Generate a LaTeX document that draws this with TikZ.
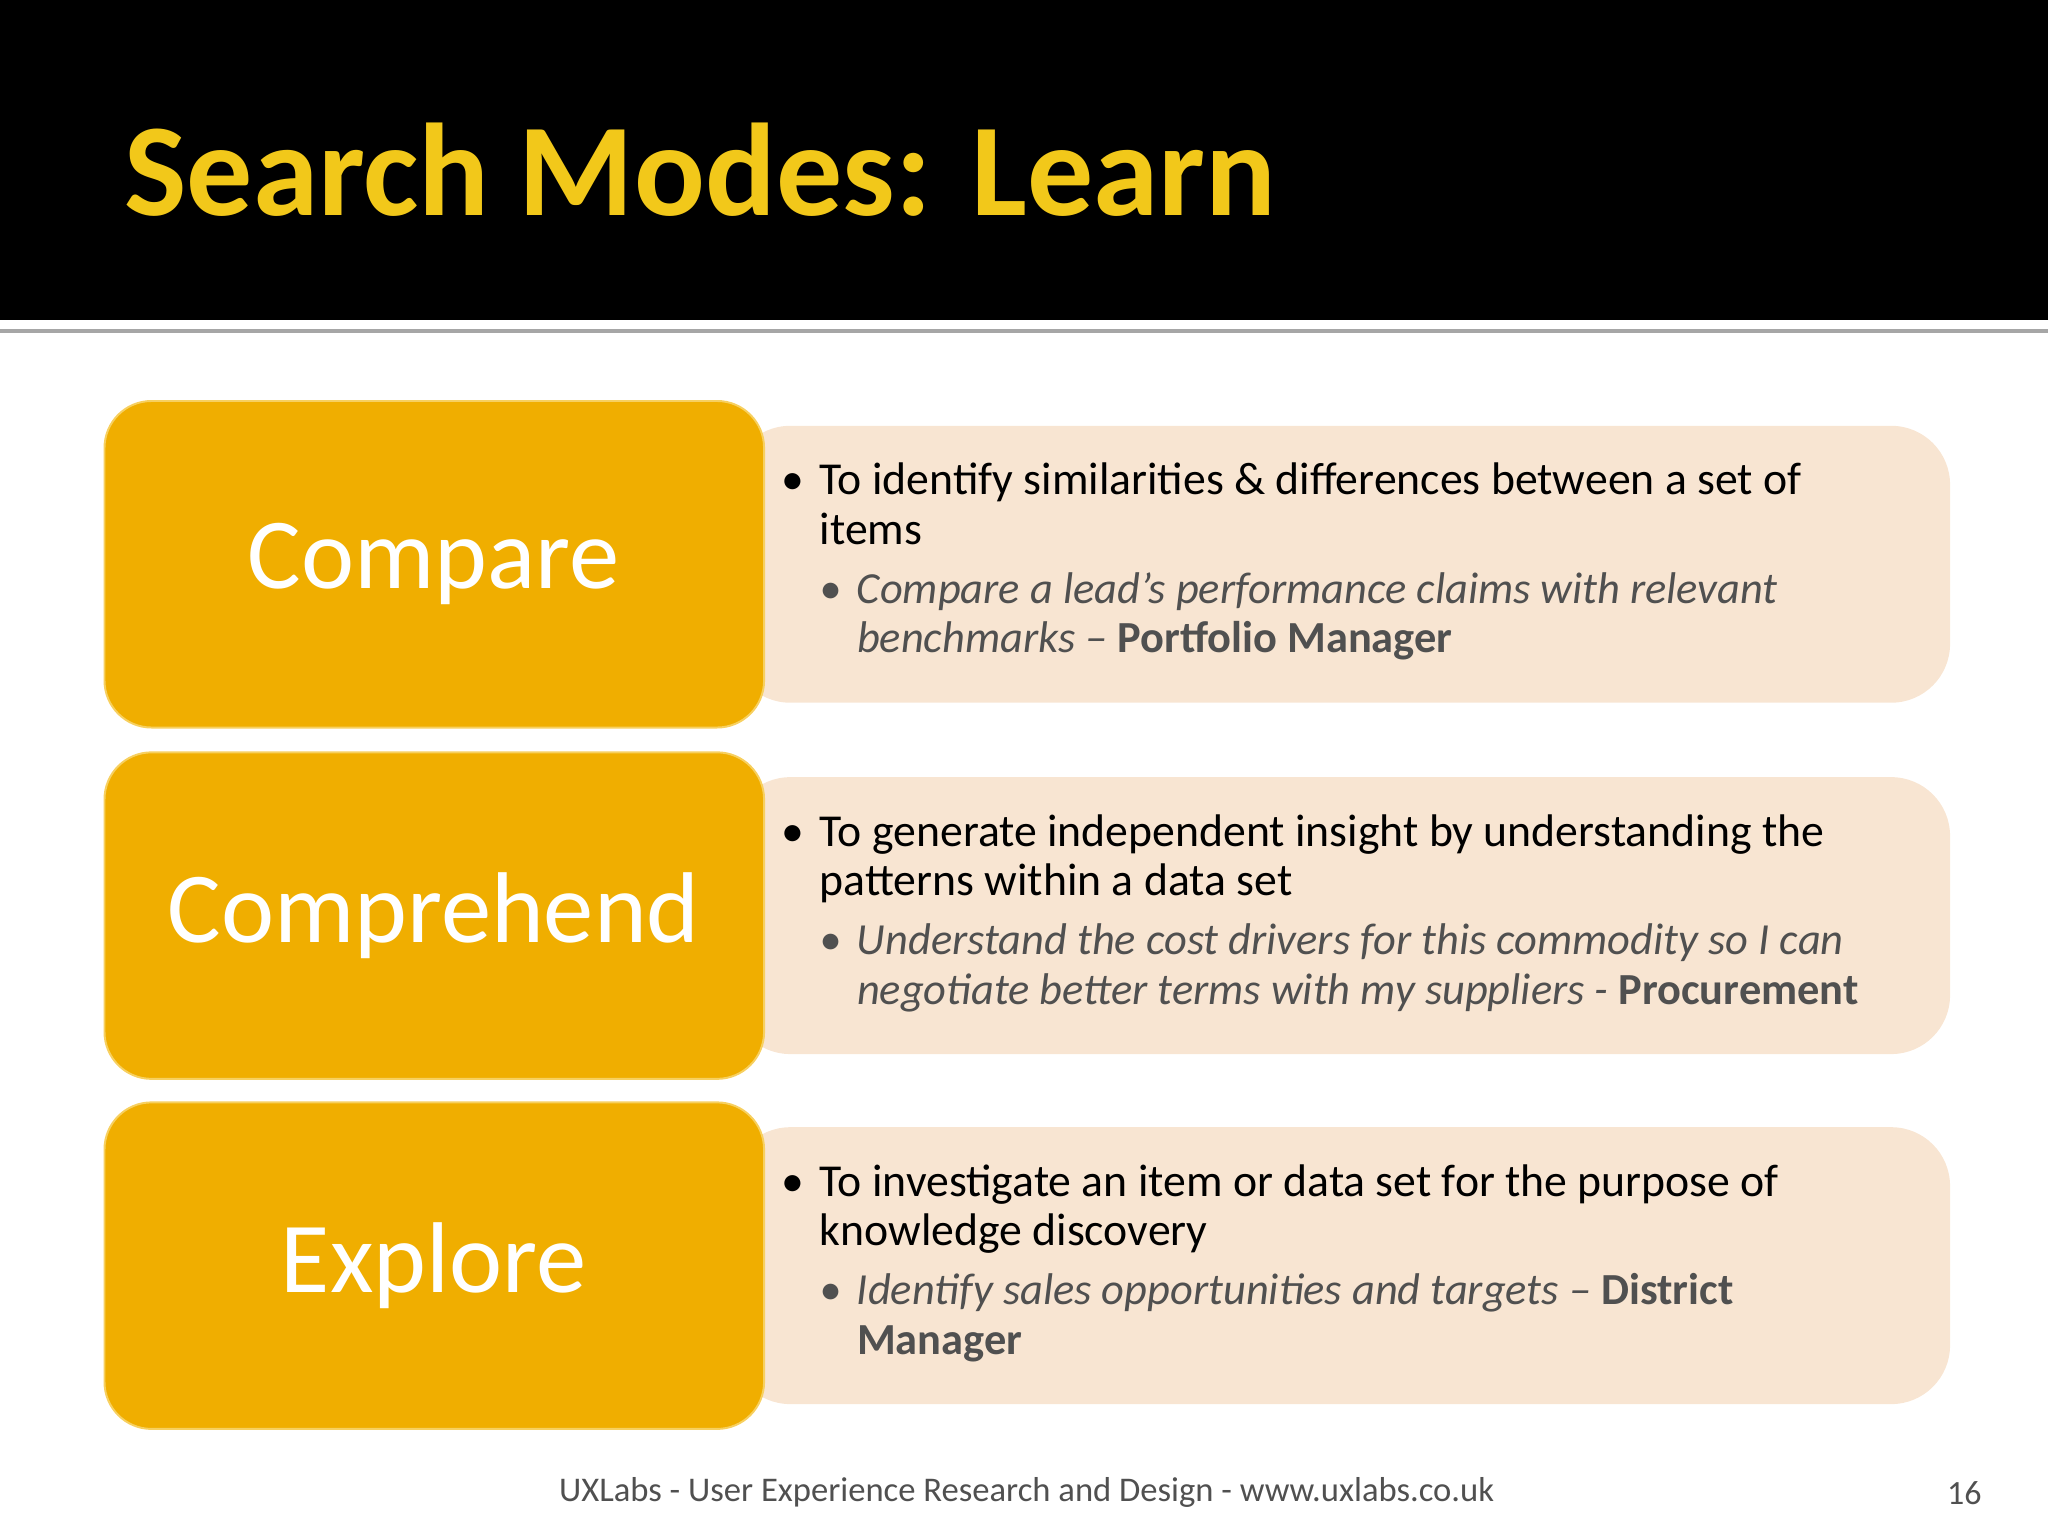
\documentclass[tikz,border=0pt]{standalone}
\usepackage{fontspec}
\setmainfont{Carlito}
\definecolor{hdr}{HTML}{F2C81A}
\definecolor{gold}{HTML}{F0AE00}
\definecolor{goldline}{HTML}{F7D060}
\definecolor{peach}{HTML}{F8E5D2}
\definecolor{subg}{HTML}{505050}
\begin{document}
\begin{tikzpicture}[x=1pt,y=-1pt,
  left/.style={fill=gold,draw=goldline,line width=1.5pt,rounded corners=36pt},
  desc/.style={anchor=north west,align=left,inner sep=0pt,font=\fontsize{35}{38}\selectfont},
  sub/.style={anchor=north west,align=left,inner sep=0pt,text=subg,font=\fontsize{34}{38}\selectfont\itshape},
  mode/.style={text=white,font=\fontsize{77}{80}\selectfont}]
\useasboundingbox (0,0) rectangle (1568,1176);
\fill[black] (0,0) rectangle (1568,245);
\fill[gray!70] (0,252) rectangle (1568,255);
\node[anchor=base west,text=hdr,font=\fontsize{101}{104}\selectfont\bfseries,inner sep=0pt] (title) at (95,165) {Search Modes: Learn};
\foreach \y/\n in {0/a,269/b,537/c}{
  \fill[peach,rounded corners=45pt] (560,326+\y) rectangle (1493,538+\y);
  \draw[left] (80,307+\y) rectangle (585,557+\y);
}
\node[mode] (m1) at (332,432) {Compare};
\node[mode] (m2) at (332,701) {Comprehend};
\node[mode] (m3) at (332,969) {Explore};
\node[desc] (b1) at (598,352) {•\hspace{12pt}\begin{tabular}[t]{@{}l@{}}To identify similarities \& differences between a set of\\items\end{tabular}};
\node[sub] (s1) at (627,435) {•\hspace{12pt}\begin{tabular}[t]{@{}l@{}}Compare a lead's performance claims with relevant\\benchmarks – \upshape\bfseries Portfolio Manager\end{tabular}};
\node[desc] (b2) at (598,621) {•\hspace{12pt}\begin{tabular}[t]{@{}l@{}}To generate independent insight by understanding the\\patterns within a data set\end{tabular}};
\node[sub] (s2) at (627,704) {•\hspace{12pt}\begin{tabular}[t]{@{}l@{}}Understand the cost drivers for this commodity so I can\\negotiate better terms with my suppliers - \upshape\bfseries Procurement\end{tabular}};
\node[desc] (b3) at (598,889) {•\hspace{12pt}\begin{tabular}[t]{@{}l@{}}To investigate an item or data set for the purpose of\\knowledge discovery\end{tabular}};
\node[sub] (s3) at (627,972) {•\hspace{12pt}\begin{tabular}[t]{@{}l@{}}Identify sales opportunities and targets – \upshape\bfseries District\\\upshape\bfseries Manager\end{tabular}};
\node[text=subg,font=\fontsize{26.5}{28}\selectfont] (foot) at (786,1143) {UXLabs - User Experience Research and Design - www.uxlabs.co.uk};
\node[text=subg,font=\fontsize{26}{28}\selectfont] (pg) at (1504,1143) {16};
\end{tikzpicture}
\end{document}
